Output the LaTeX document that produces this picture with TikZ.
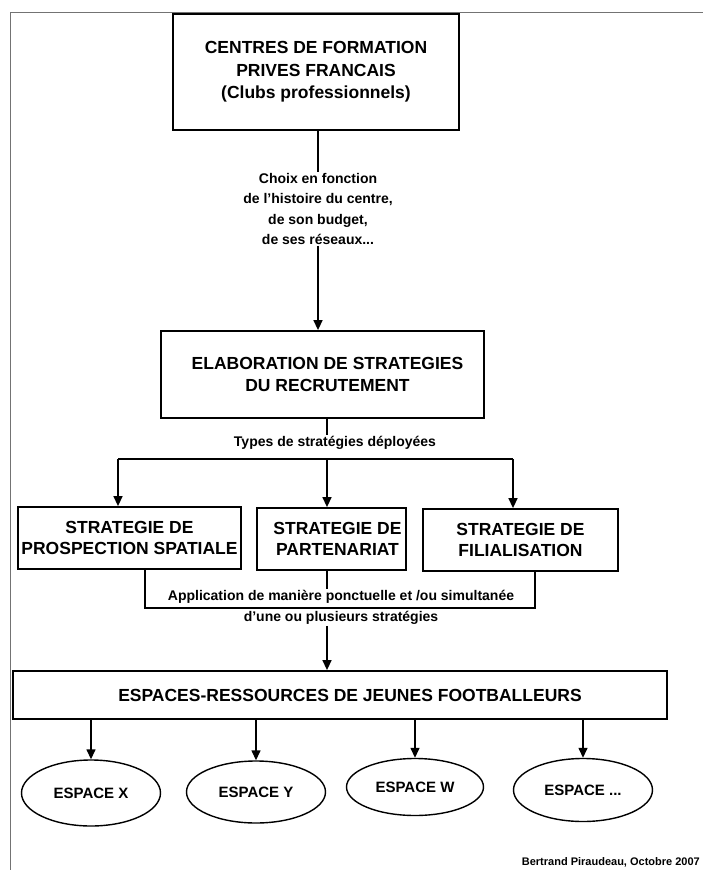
\documentclass[tikz,border=0pt]{standalone}
\usepackage{fontspec}
\setmainfont{Liberation Sans}
\usetikzlibrary{arrows.meta,shapes.geometric}
\begin{document}
\begin{tikzpicture}[x=1pt,y=-1pt,
  box/.style={draw, line width=1.8pt, align=center, inner sep=0pt,
    font=\fontsize{17.5}{22.5}\selectfont\bfseries},
  sbox/.style={box, font=\fontsize{17.5}{21}\selectfont\bfseries},
  lbl/.style={align=center, inner sep=1pt, font=\fontsize{14}{20.3}\selectfont\bfseries},
  oval/.style={draw, ellipse, line width=1.4pt, inner sep=0pt,
    font=\fontsize{15}{18}\selectfont\bfseries},
  conn/.style={line width=1.4pt},
  arr/.style={conn, -{Triangle[length=10pt,width=9pt]}},
]
\useasboundingbox (0,0) rectangle (703,870);
\clip (0,0) rectangle (703,870);
\fill[white] (0,0) rectangle (703,870);
% frame
\draw[line width=1pt, black!55] (10,870) -- (10,12) -- (703,12);

% nodes
\node[box, minimum width=286pt, minimum height=116pt] (top) at (316,72)
  {CENTRES DE FORMATION\\PRIVES FRANCAIS\\(Clubs professionnels)};
\node[lbl] (choix) at (318,209)
  {Choix en fonction\\de l'histoire du centre,\\de son budget,\\de ses réseaux...};
\node[box, minimum width=323pt, minimum height=87pt] (box2) at (322.5,374.5)
  {\hspace*{10pt}ELABORATION DE STRATEGIES\\\hspace*{10pt}DU RECRUTEMENT};
\node[lbl] (types) at (335,443) {Types de stratégies déployées};
\node[sbox, minimum width=223pt, minimum height=62pt] (s1) at (129.5,538)
  {STRATEGIE DE\\PROSPECTION SPATIALE};
\node[sbox, minimum width=149pt, minimum height=62pt] (s2) at (331.5,539)
  {\hspace*{12pt}STRATEGIE DE\\\hspace*{12pt}PARTENARIAT};
\node[sbox, minimum width=195pt, minimum height=62pt] (s3) at (520.5,540)
  {STRATEGIE DE\\FILIALISATION};
\node[lbl, font=\fontsize{14}{21}\selectfont\bfseries] (app) at (341,607.5)
  {Application de manière ponctuelle et /ou simultanée\\d'une ou plusieurs stratégies};
\node[box, minimum width=654pt, minimum height=48pt] (box4) at (340,695)
  {\hspace*{20pt}ESPACES-RESSOURCES DE JEUNES FOOTBALLEURS};
\node[oval, minimum width=139pt, minimum height=66pt] (e1) at (91,793) {ESPACE X};
\node[oval, minimum width=139pt, minimum height=62pt] (e2) at (256,792) {ESPACE Y};
\node[oval, minimum width=137pt, minimum height=57pt] (e3) at (415,787) {ESPACE W};
\node[oval, minimum width=139pt, minimum height=63pt] (e4) at (583,790) {ESPACE ...};
\node[anchor=base east, inner sep=0pt, font=\fontsize{11}{13}\selectfont\bfseries] (credit)
  at (700,865) {Bertrand Piraudeau, Octobre 2007};

% coordinates
\coordinate (mx) at (327,459);
\coordinate (bl) at (118,459);
\coordinate (br) at (513,459);
\coordinate (bkL) at (145,608);
\coordinate (bkR) at (535,608);

% connectors
\draw[conn] (top.south -| choix.north) -- (choix.north);
\draw[arr] (choix.south) -- (choix.south |- box2.north);
\draw[conn] (box2.south -| mx) -- (types.north -| mx);
\draw[line width=2.4pt] (bl) -- (br);
\draw[arr] (bl) -- (bl |- s1.north);
\draw[arr] (mx) -- (mx |- s2.north);
\draw[arr] (br) -- (br |- s3.north);
\draw[conn] (s1.south -| bkL) -- (bkL) -- (bkR) -- (s3.south -| bkR);
\draw[conn] (s2.south -| mx) -- (app.north -| mx);
\draw[arr] (app.south -| mx) -- (mx |- box4.north);
\draw[arr] (box4.south -| e1.north) -- (e1.north);
\draw[arr] (box4.south -| e2.north) -- (e2.north);
\draw[arr] (box4.south -| e3.north) -- (e3.north);
\draw[arr] (box4.south -| e4.north) -- (e4.north);
\end{tikzpicture}
\end{document}
